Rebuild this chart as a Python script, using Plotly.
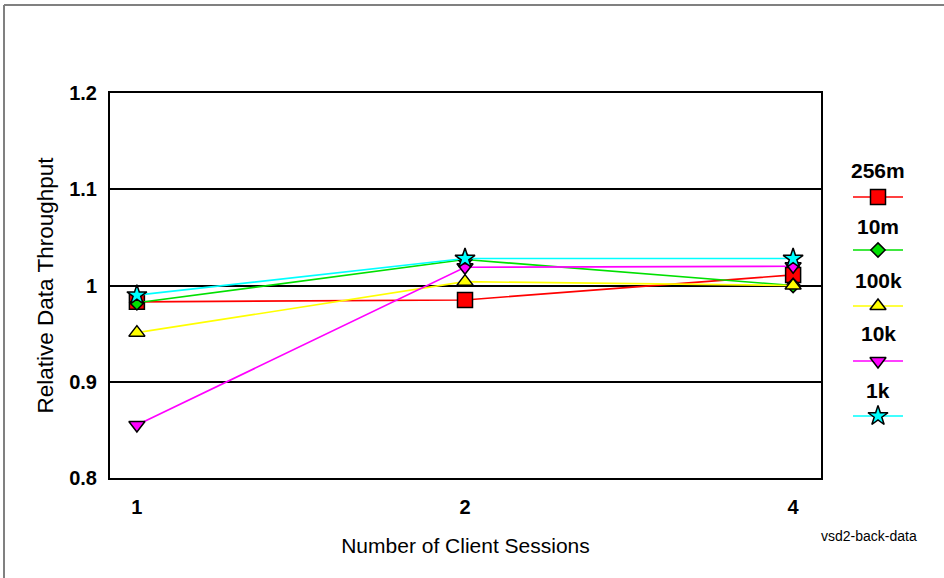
import plotly.graph_objects as go

# Data: relative throughput versus number of client sessions
sessions = ["1", "2", "4"]
series_names = ["256m", "10m", "100k", "10k", "1k"]
thr_256m = [0.983, 0.985, 1.011]
thr_10m = [0.982, 1.027, 1.000]
thr_100k = [0.951, 1.004, 1.000]
thr_10k = [0.855, 1.019, 1.020]
thr_1k = [0.990, 1.028, 1.028]
y_ticks = [0.8, 0.9, 1.0, 1.1, 1.2]
y_tick_text = ["0.8", "0.9", "1", "1.1", "1.2"]

values = [thr_256m, thr_10m, thr_100k, thr_10k, thr_1k]
colors = ["#ff0000", "#00e000", "#ffff00", "#ff00ff", "#00ffff"]
symbols = ["square", "diamond", "triangle-up", "triangle-down", "star"]
sizes = [15, 11, 14, 14, 15]

FONT = "Liberation Sans, Arial, Helvetica, sans-serif"
W, H = 944, 578
ML, MR, MT, MB = 110, 10, 93, 100
PW = W - ML - MR
PH = H - MT - MB
PLOT_RIGHT = 821


def px_x(p):
    return (p - ML) / PW


def px_y(p):
    return (H - MB - p) / PH


fig = go.Figure()

for name, vals, col, sym, sz in zip(series_names, values, colors, symbols, sizes):
    fig.add_trace(go.Scatter(
        x=sessions, y=vals, mode="lines+markers", name=name,
        line=dict(color=col, width=1.6),
        marker=dict(symbol=sym, size=sz, color=col,
                    line=dict(color="black", width=1.5)),
        cliponaxis=False, showlegend=False,
    ))

# Legend drawn on an auxiliary pixel-scaled axis to the right of the plot
leg_label_y = [170, 226, 280, 333, 390]
leg_mark_y = [197, 250, 306, 361, 416]
leg_cx = 878
for name, col, sym, sz, ly, my in zip(series_names, colors, symbols, sizes,
                                       leg_label_y, leg_mark_y):
    fig.add_trace(go.Scatter(
        x=[leg_cx - 25, leg_cx + 25], y=[my, my], mode="lines",
        line=dict(color=col, width=1.6), xaxis="x2", yaxis="y2",
        showlegend=False, hoverinfo="skip",
    ))
    fig.add_trace(go.Scatter(
        x=[leg_cx], y=[my], mode="markers",
        marker=dict(symbol=sym, size=sz, color=col,
                    line=dict(color="black", width=1.5)),
        xaxis="x2", yaxis="y2", showlegend=False, hoverinfo="skip",
    ))
    fig.add_annotation(
        x=leg_cx, y=ly, xref="x2", yref="y2", text="<b>%s</b>" % name,
        showarrow=False, font=dict(family=FONT, size=21, color="black"),
    )

# Chart id caption under the bottom-right corner
fig.add_annotation(
    x=1, y=0, xref="paper", yref="paper", xanchor="center", yanchor="middle",
    xshift=869 - (W - MR), yshift=-(536 - (H - MB)),
    text="vsd2-back-data", showarrow=False,
    font=dict(family=FONT, size=14, color="black"),
)

# Outer frame: top and left edges
fig.add_shape(type="line", xref="paper", yref="paper",
              x0=px_x(4), x1=px_x(W + 10), y0=px_y(5), y1=px_y(5),
              line=dict(color="#808080", width=2), layer="above")
fig.add_shape(type="line", xref="paper", yref="paper",
              x0=px_x(4), x1=px_x(4), y0=px_y(5), y1=px_y(H + 10),
              line=dict(color="#808080", width=2), layer="above")

main_dom = (PLOT_RIGHT - ML) / PW

fig.update_layout(
    width=W, height=H,
    margin=dict(l=ML, r=MR, t=MT, b=MB, autoexpand=False),
    paper_bgcolor="white", plot_bgcolor="rgba(0,0,0,0)",
    font=dict(family=FONT, color="black"),
    xaxis=dict(
        type="category", domain=[0, main_dom], range=[-0.082, 2.085],
        tickvals=sessions, ticktext=["<b>%s</b>" % s for s in sessions],
        showgrid=False, showline=True, linecolor="black", linewidth=2,
        mirror=True, ticks="", zeroline=False, automargin=False,
        tickfont=dict(family=FONT, size=20), ticklabelstandoff=10,
        title=dict(text="Number of Client Sessions",
                   font=dict(family=FONT, size=21), standoff=21),
    ),
    yaxis=dict(
        range=[0.8, 1.2], tickvals=y_ticks,
        ticktext=["<b>%s</b>" % t for t in y_tick_text],
        showgrid=True, gridcolor="black", gridwidth=1.5,
        showline=True, linecolor="black", linewidth=2, mirror=True,
        ticks="", zeroline=False, automargin=False,
        tickfont=dict(family=FONT, size=20), ticklabelstandoff=7,
        title=dict(text="Relative Data Throughput",
                   font=dict(family=FONT, size=22.5), standoff=9),
    ),
    xaxis2=dict(domain=[main_dom, 1], range=[PLOT_RIGHT, W - MR],
                visible=False, fixedrange=True, anchor="y2"),
    yaxis2=dict(domain=[0, 1], range=[H - MB, MT], visible=False,
                fixedrange=True, anchor="x2"),
)

fig.write_html("out.html")
